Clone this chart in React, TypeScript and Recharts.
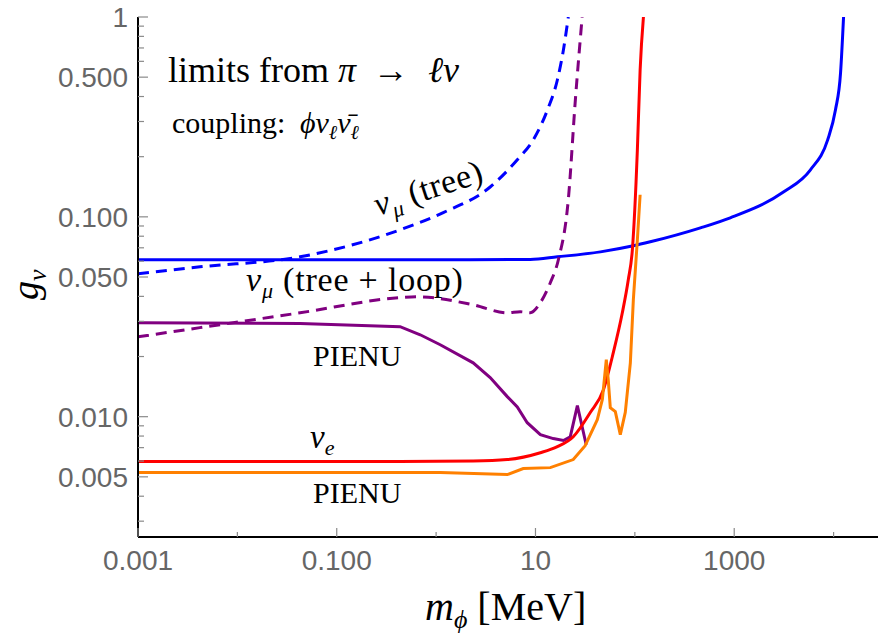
import React from "react";
import { LineChart, Line, XAxis, YAxis } from "recharts";

// ---- data (m_phi [MeV], g_nu) ----
const nuMuSolid = [
  [0.001, 0.061], [0.1, 0.061], [2.2, 0.061], [8.87, 0.0612], [16.6, 0.0631], [45, 0.0668],
  [96.6, 0.0716], [143, 0.075], [457, 0.0881], [913, 0.0989], [3126, 0.133], [5850, 0.172],
  [8700, 0.242], [10450, 0.343], [11750, 0.525], [12600, 1.0],
];
const nuMuTree = [
  [0.001, 0.0519], [0.0042, 0.0562], [0.0428, 0.0631], [0.434, 0.0861], [1.18, 0.105],
  [3.5, 0.141], [6.56, 0.193], [9.5, 0.243], [13.2, 0.343], [16.6, 0.484], [19.1, 0.684], [21.4, 1.0],
];
const nuMuTreeLoop = [
  [0.001, 0.0251], [0.0042, 0.0279], [0.0428, 0.0331], [0.434, 0.0394], [0.646, 0.0398],
  [2.36, 0.0363], [5.2, 0.0331], [7.03, 0.0335], [8.87, 0.0331], [11.2, 0.0372],
  [14.1, 0.0468], [17, 0.061], [21.4, 0.122], [25.2, 0.385], [29.5, 1.0],
];
const pienuMu = [
  [0.001, 0.0295], [0.0428, 0.0293], [0.434, 0.0282], [0.692, 0.0257], [1.1, 0.0229],
  [2.36, 0.0186], [3.5, 0.0157], [5.2, 0.0126], [6.56, 0.0112], [8.26, 0.00933],
  [11.2, 0.00813], [15.1, 0.00777], [19.1, 0.0076], [22.4, 0.00794], [26.4, 0.01135], [32.4, 0.00724],
];
const nuE = [
  [0.001, 0.00596], [0.434, 0.00596], [2.36, 0.006], [5.2, 0.0061], [11.2, 0.0066],
  [16.6, 0.00708], [24, 0.00794], [35.6, 0.0105], [48.2, 0.0136], [60.7, 0.0209],
  [74.8, 0.0331], [85.9, 0.0484], [94.4, 0.0684], [106, 0.216], [113, 0.543], [122, 1.0],
];
const pienuE = [
  [0.001, 0.00525], [1.1, 0.00525], [5.2, 0.00513], [7.53, 0.0055], [14.1, 0.00556],
  [24, 0.0061], [31.6, 0.00716], [41.9, 0.00966], [47.1, 0.0122], [51.6, 0.0193],
  [54, 0.0153], [56.6, 0.0111], [63.6, 0.0106], [71.4, 0.00813], [80.1, 0.0105],
  [90.1, 0.0186], [96.6, 0.0385], [106, 0.0767], [113, 0.129],
];

const xTicks = [0.001, 0.01, 0.1, 1, 10, 100, 1000, 10000];
const xTickLabels = ["0.001", "", "0.100", "", "10", "", "1000", ""];
const yTicks = [
  0.003, 0.004, 0.005, 0.006, 0.007, 0.008, 0.009, 0.01, 0.02, 0.03, 0.04, 0.05, 0.06, 0.07,
  0.08, 0.09, 0.1, 0.2, 0.3, 0.4, 0.5, 0.6, 0.7, 0.8, 0.9, 1,
];
const yMajorTicks = [0.005, 0.01, 0.05, 0.1, 0.5, 1];
const yMajorLabels = ["0.005", "0.010", "0.050", "0.100", "0.500", "1"];

const toPts = (arr: number[][]) => arr.map(([x, y]) => ({ x, y }));
const near = (a: number, b: number) => Math.abs(a - b) / b < 1e-6;

const W = 881;
const H = 640;
const PLOT_TOP = 17;
const PLOT_BOTTOM = 537;
const PLOT_LEFT = 138;
const PLOT_RIGHT = W;

const TICK_COLOR = "#8a8a8a";
const LABEL_COLOR = "#666666";
const SANS = "Liberation Sans, Arial, sans-serif";
const SERIF = "Liberation Serif, Times New Roman, serif";

const BottomTick = (props: any) => {
  const { x, payload } = props;
  const i = xTicks.findIndex((t) => near(t, payload.value));
  const label = i >= 0 ? xTickLabels[i] : "";
  const len = label ? 9 : 5;
  return (
    <g>
      <line x1={x} x2={x} y1={PLOT_BOTTOM} y2={PLOT_BOTTOM - len} stroke={TICK_COLOR} strokeWidth={1.2} />
      {label && (
        <text x={x} y={PLOT_BOTTOM + 33} textAnchor="middle" fill={LABEL_COLOR} fontSize={28} style={{ fontFamily: SANS }}>
          {label}
        </text>
      )}
    </g>
  );
};

const TopTick = (props: any) => {
  const { x, payload } = props;
  const i = xTicks.findIndex((t) => near(t, payload.value));
  const label = i >= 0 ? xTickLabels[i] : "";
  const len = label ? 9 : 5;
  return <line x1={x} x2={x} y1={PLOT_TOP} y2={PLOT_TOP + len} stroke={TICK_COLOR} strokeWidth={1.2} />;
};

const LeftTick = (props: any) => {
  const { y, payload } = props;
  const i = yMajorTicks.findIndex((t) => near(t, payload.value));
  const major = i >= 0;
  return (
    <g>
      <line x1={PLOT_LEFT} x2={PLOT_LEFT + (major ? 10 : 6)} y1={y} y2={y} stroke={TICK_COLOR} strokeWidth={1.2} />
      {major && (
        <text x={PLOT_LEFT - 10} y={y} dy="0.36em" textAnchor="end" fill={LABEL_COLOR} fontSize={28} style={{ fontFamily: SANS }}>
          {yMajorLabels[i]}
        </text>
      )}
    </g>
  );
};

const RightTick = (props: any) => {
  const { y, payload } = props;
  const major = yMajorTicks.some((t) => near(t, payload.value));
  return (
    <line x1={PLOT_RIGHT} x2={PLOT_RIGHT - (major ? 8 : 4)} y1={y} y2={y} stroke={TICK_COLOR} strokeWidth={1.2} />
  );
};

const serif = (size: number): React.CSSProperties => ({ fontFamily: SERIF, fontSize: size });
const it: React.CSSProperties = { fontStyle: "italic" };

const Annotations = () => (
  <svg width={878} height={640} style={{ position: "absolute", left: 0, top: 0, pointerEvents: "none" }}>
    <g fill="#000">
      <text x={168} y={82} style={serif(36)}>
        limits from
        <tspan x={338} style={it}>π</tspan>
        <tspan x={373}>→</tspan>
        <tspan x={428} style={it}>ℓν</tspan>
      </text>
      <text x={172} y={133} style={serif(30)}>
        coupling:
        <tspan x={300} style={it}>ϕν</tspan>
        <tspan style={{ ...it, fontSize: 20 }} dy={6}>ℓ</tspan>
        <tspan style={it} dy={-6}>ν̄</tspan>
        <tspan style={{ ...it, fontSize: 20 }} dy={6}>ℓ</tspan>
      </text>
      <text x={378} y={216} style={{ ...serif(34), letterSpacing: 0.5 }} transform="rotate(-18 378 216)">
        <tspan style={it}>ν</tspan>
        <tspan style={{ ...it, fontSize: 22 }} dy={7}>μ</tspan>
        <tspan dy={-7}> (tree)</tspan>
      </text>
      <text x={246} y={291} style={{ ...serif(34), letterSpacing: 0.8 }}>
        <tspan style={it}>ν</tspan>
        <tspan style={{ ...it, fontSize: 22 }} dy={7}>μ</tspan>
        <tspan dy={-7}> (tree + loop)</tspan>
      </text>
      <text x={313} y={366} style={serif(30)}>PIENU</text>
      <text x={310} y={448} style={serif(33)}>
        <tspan style={it}>ν</tspan>
        <tspan style={{ ...it, fontSize: 22 }} dy={7}>e</tspan>
      </text>
      <text x={313} y={503} style={serif(30)}>PIENU</text>
      <text x={425} y={620} style={serif(40)}>
        <tspan style={it}>m</tspan>
        <tspan style={{ ...it, fontSize: 26 }} dy={8}>ϕ</tspan>
        <tspan dy={-8}> [MeV]</tspan>
      </text>
      <text x={0} y={0} style={serif(38)} transform="translate(38 300) rotate(-90)">
        <tspan style={it}>g</tspan>
        <tspan style={{ ...it, fontSize: 26 }} dy={8}>ν</tspan>
      </text>
    </g>
  </svg>
);

export default function App() {
  return (
    <div style={{ position: "absolute", left: 0, top: 0, width: 878, height: 640, overflow: "hidden", background: "#fff" }}>
      <LineChart width={W} height={H} margin={{ top: PLOT_TOP, right: 0, bottom: 0, left: 0 }}>
        <XAxis
          xAxisId="bottom"
          dataKey="x"
          type="number"
          scale="log"
          domain={[0.001, 30000]}
          allowDataOverflow
          ticks={xTicks}
          interval={0}
          height={H - PLOT_BOTTOM}
          axisLine={{ stroke: "#000", strokeWidth: 2 }}
          tickLine={false}
          tickSize={0}
          tick={<BottomTick />}
        />
        <XAxis
          xAxisId="top"
          orientation="top"
          dataKey="x"
          type="number"
          scale="log"
          domain={[0.001, 30000]}
          allowDataOverflow
          ticks={xTicks}
          interval={0}
          height={0}
          axisLine={{ stroke: "#000", strokeWidth: 2 }}
          tickLine={false}
          tickSize={0}
          tick={<TopTick />}
        />
        <YAxis
          yAxisId="left"
          dataKey="y"
          type="number"
          scale="log"
          domain={[0.0025, 1]}
          allowDataOverflow
          ticks={yTicks}
          interval={0}
          width={PLOT_LEFT}
          axisLine={{ stroke: "#000", strokeWidth: 2 }}
          tickLine={false}
          tickSize={0}
          tick={<LeftTick />}
        />
        <YAxis
          yAxisId="right"
          orientation="right"
          dataKey="y"
          type="number"
          scale="log"
          domain={[0.0025, 1]}
          allowDataOverflow
          ticks={yTicks}
          interval={0}
          width={0}
          axisLine={false}
          tickLine={false}
          tickSize={0}
          tick={<RightTick />}
        />
        <Line xAxisId="bottom" yAxisId="left" data={toPts(nuMuSolid)} dataKey="y" type="monotone" stroke="#0000ff" strokeWidth={3} dot={false} isAnimationActive={false} />
        <Line xAxisId="bottom" yAxisId="left" data={toPts(nuMuTree)} dataKey="y" type="monotone" stroke="#0000ff" strokeWidth={3} strokeDasharray="11 7" dot={false} isAnimationActive={false} />
        <Line xAxisId="bottom" yAxisId="left" data={toPts(nuMuTreeLoop)} dataKey="y" type="monotone" stroke="#800080" strokeWidth={3} strokeDasharray="11 7" dot={false} isAnimationActive={false} />
        <Line xAxisId="bottom" yAxisId="left" data={toPts(pienuMu)} dataKey="y" type="linear" stroke="#800080" strokeWidth={3} dot={false} isAnimationActive={false} />
        <Line xAxisId="bottom" yAxisId="left" data={toPts(nuE)} dataKey="y" type="monotone" stroke="#ff0000" strokeWidth={3} dot={false} isAnimationActive={false} />
        <Line xAxisId="bottom" yAxisId="left" data={toPts(pienuE)} dataKey="y" type="linear" stroke="#ff8000" strokeWidth={3} dot={false} isAnimationActive={false} />
      </LineChart>
      <Annotations />
    </div>
  );
}
